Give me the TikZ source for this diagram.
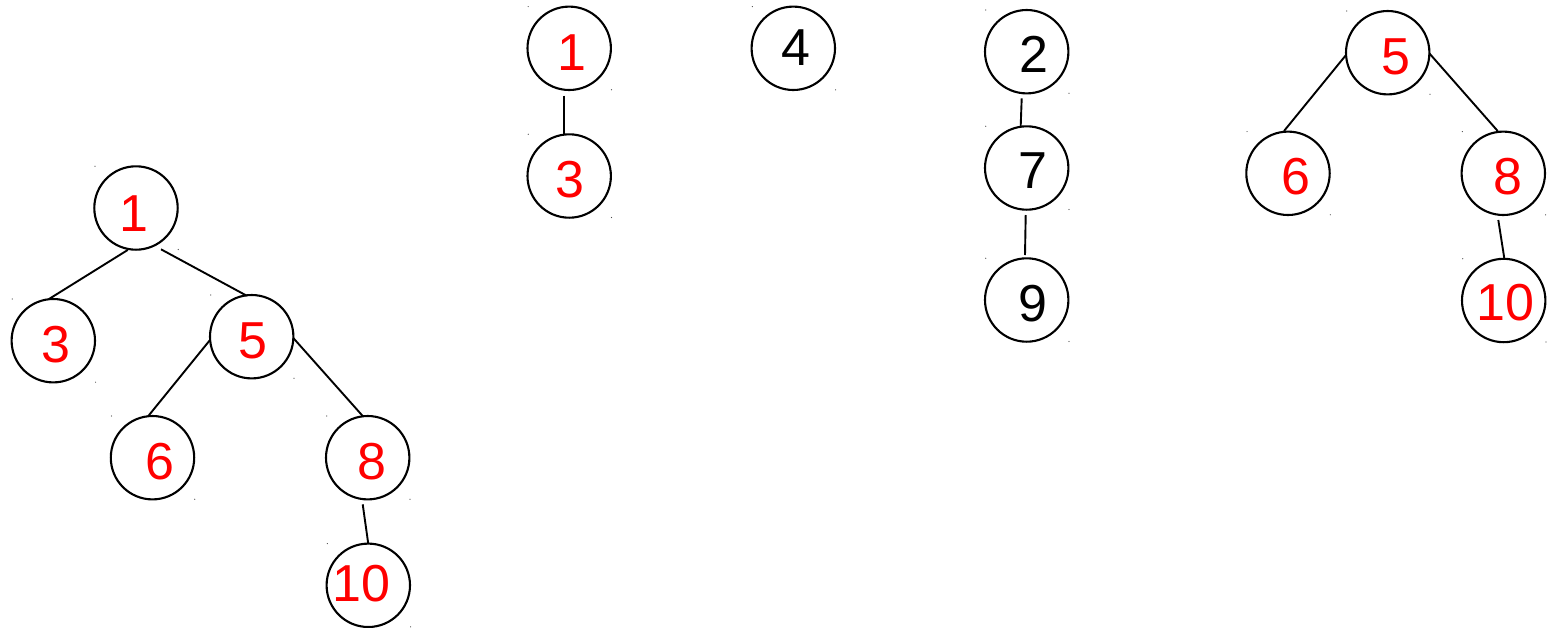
\documentclass[tikz,border=0pt]{standalone}
\usepackage{fontspec}
\setmainfont{Liberation Sans}
\usetikzlibrary{calc}
\definecolor{numred}{RGB}{255,0,0}
\begin{document}
\begin{tikzpicture}[x=1pt,y=-1pt,
  ring/.style={circle,draw=black,line width=2.1pt,minimum size=83.4pt,inner sep=0pt},
  num/.style={inner sep=0pt,anchor=center,font=\fontsize{52}{60}\selectfont},
  rnum/.style={num,text=numred},
  bnum/.style={num,text=black},
  edge/.style={draw=black,line width=1.9pt},
  speck/.style={fill=black!70}]
\useasboundingbox (0,0) rectangle (1561,627);
% left tree
\node[ring] (c1L) at (136,208) {};
\node[ring] (c3L) at (53.3,340.7) {};
\node[ring] (c5L) at (251.7,336.7) {};
\node[ring] (c6L) at (152.5,457.7) {};
\node[ring] (c8L) at (367.7,457.7) {};
\node[ring] (c10L) at (368.3,585.3) {};
\node[rnum] (t1L) at (133.7,213.3) {1};
\node[rnum] (t3L) at (56.2,345) {3};
\node[rnum] (t5L) at (252.5,340.7) {5};
\node[rnum] (t6L) at (160,461.7) {6};
\node[rnum] (t8L) at (372,461.3) {8};
\node[rnum] (t10L) at (361.6,584) {10};
% middle pair
\node[ring] (c1M) at (569.2,48.3) {};
\node[ring] (c3M) at (569.2,176) {};
\node[rnum] (t1M) at (572.2,52.2) {1};
\node[rnum] (t3M) at (570,179.3) {3};
% single
\node[ring] (c4) at (793.3,48.3) {};
\node[bnum] (t4) at (796.3,47.2) {4};
% chain
\node[ring] (c2) at (1026.7,51.7) {};
\node[ring] (c7) at (1026.7,168) {};
\node[ring] (c9) at (1026.7,300) {};
\node[bnum] (t2) at (1034,54.2) {2};
\node[bnum] (t7) at (1033,170.5) {7};
\node[bnum] (t9) at (1033,303.8) {9};
% right tree
\node[ring] (c5R) at (1387.7,52.7) {};
\node[ring] (c6R) at (1288,173.3) {};
\node[ring] (c8R) at (1503.3,173.3) {};
\node[ring] (c10R) at (1503.7,300.5) {};
\node[rnum] (t5R) at (1395.5,56.7) {5};
\node[rnum] (t6R) at (1296,177) {6};
\node[rnum] (t8R) at (1507.7,177) {8};
\node[rnum] (t10R) at (1505.8,303) {10};
% connectors
\path[edge] ([shift={(-8.3,42)}]c1L.center) -- ([shift={(-4.3,-41.7)}]c3L.center);
\path[edge] ([shift={(25,41.3)}]c1L.center) -- ([shift={(-5,-41)}]c5L.center);
\path[edge] ([shift={(-41.7,3.3)}]c5L.center) -- ([shift={(-4.2,-41.7)}]c6L.center);
\path[edge] ([shift={(41.6,1.3)}]c5L.center) -- ([shift={(-5,-41.7)}]c8L.center);
\path[edge] ([shift={(-5,46.6)}]c8L.center) -- ([shift={(0,-41.3)}]c10L.center);
\path[edge] ([shift={(-4.9,47.4)}]c1M.center) -- ([shift={(-4.9,-41.7)}]c3M.center);
\path[edge] ([shift={(-5,46.6)}]c2.center) -- ([shift={(-6,-42)}]c7.center);
\path[edge] ([shift={(-1,47)}]c7.center) -- ([shift={(-1.7,-45)}]c9.center);
\path[edge] ([shift={(-41.7,2.3)}]c5R.center) -- ([shift={(-4,-42.3)}]c6R.center);
\path[edge] ([shift={(41.6,0.6)}]c5R.center) -- ([shift={(-5.6,-42.3)}]c8R.center);
\path[edge] ([shift={(-5,46.7)}]c8R.center) -- ([shift={(0.6,-42.2)}]c10R.center);
% corner specks
\foreach \n in {c1L,c3L,c5L,c6L,c8L,c10L,c1M,c3M,c4,c2,c7,c9,c5R,c6R,c8R,c10R}{
  \fill[speck] ([shift={(-41,-41.7)}]\n.center) circle (0.6);
  \fill[speck] ([shift={(42.3,41.5)}]\n.center) circle (0.6);
}
\end{tikzpicture}
\end{document}
